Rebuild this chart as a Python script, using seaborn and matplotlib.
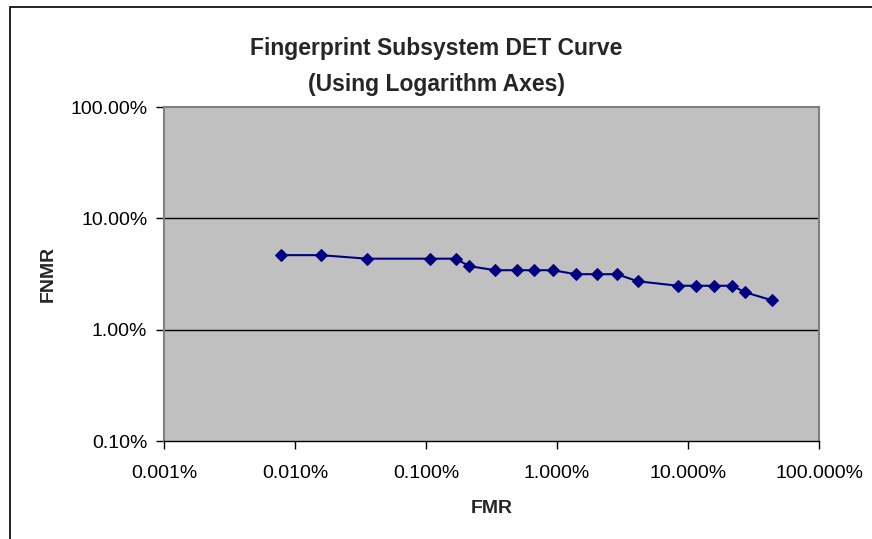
import pandas as pd
import matplotlib.pyplot as plt
import matplotlib.ticker as mticker
from matplotlib.patches import Rectangle
import seaborn as sns

# DET curve points (fractions, not percent)
fmr = [0.000078, 0.000157, 0.000355, 0.00107, 0.00168, 0.00214, 0.00338,
       0.00498, 0.00664, 0.00927, 0.0139, 0.0201, 0.0287, 0.0413, 0.084,
       0.116, 0.159, 0.217, 0.272, 0.441]
fnmr = [0.0467, 0.0467, 0.0434, 0.0434, 0.0434, 0.0372, 0.0342,
        0.0342, 0.0342, 0.0342, 0.0315, 0.0315, 0.0315, 0.0272, 0.0248,
        0.0248, 0.0248, 0.0248, 0.0217, 0.0183]

x_ticks = [1e-5, 1e-4, 1e-3, 1e-2, 1e-1, 1]
y_ticks = [1e-3, 1e-2, 1e-1, 1]

df = pd.DataFrame({"FMR": fmr, "FNMR": fnmr})

sns.set_style("white")
plt.rcParams["font.family"] = ["Liberation Sans", "DejaVu Sans"]

W, H = 872, 539
fig = plt.figure(figsize=(W / 100, H / 100), dpi=100)
ax = fig.add_axes([164 / W, 1 - 441 / H, (819 - 164) / W, (441 - 107) / H])

# outer chart frame (runs off the right and bottom edge)
fig.patches.append(Rectangle((9.5 / W, -0.1), 1.2, 1 - 7 / H + 0.1,
                             transform=fig.transFigure, fill=False,
                             edgecolor="black", linewidth=1.2))

ax.set_facecolor("#C0C0C0")
sns.lineplot(data=df, x="FMR", y="FNMR", ax=ax, sort=False,
             color="#000080", linewidth=1.5, marker="D", markersize=6,
             markeredgecolor="#000080", markerfacecolor="#000080")

ax.set_xscale("log")
ax.set_yscale("log")
ax.set_xlim(1e-5, 1)
ax.set_ylim(1e-3, 1)
ax.set_xticks(x_ticks)
ax.set_yticks(y_ticks)
ax.xaxis.set_minor_locator(mticker.NullLocator())
ax.yaxis.set_minor_locator(mticker.NullLocator())
ax.xaxis.set_major_formatter(mticker.FuncFormatter(lambda v, p: f"{v * 100:.3f}%"))
ax.yaxis.set_major_formatter(mticker.FuncFormatter(lambda v, p: f"{v * 100:.2f}%"))

for yv in y_ticks[1:-1]:
    ax.axhline(yv, color="black", linewidth=1, zorder=1)

for side in ["left", "top", "right"]:
    ax.spines[side].set_color("#808080")
    ax.spines[side].set_linewidth(1.5)
ax.spines["bottom"].set_color("black")
ax.spines["bottom"].set_linewidth(1)

ax.tick_params(axis="both", direction="out", length=6, width=1, color="black",
               labelsize=14, labelcolor="black", bottom=True, left=True)
ax.tick_params(axis="x", pad=11)
ax.tick_params(axis="y", pad=6)

ax.set_xlabel("FMR", fontsize=14, fontweight="bold", labelpad=13)
ax.set_ylabel("FNMR", fontsize=14, fontweight="bold", labelpad=10)

fig.suptitle("Fingerprint Subsystem DET Curve\n(Using Logarithm Axes)",
             x=0.5, y=1 - 37 / H, va="top", fontsize=16.5, fontweight="bold",
             linespacing=1.7)

fig.savefig("out.png", dpi=100)
